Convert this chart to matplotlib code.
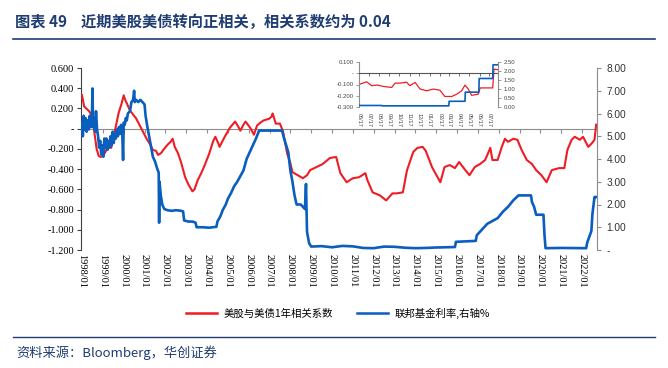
import matplotlib
matplotlib.use('Agg')
import matplotlib.pyplot as plt
import matplotlib.dates as mdates
import pandas as pd
from matplotlib.lines import Line2D

plt.rcParams['font.family'] = ['Noto Sans CJK SC', 'DejaVu Sans']

# ---------------- data ----------------
corr_t = [1998.0, 1998.1, 1998.2, 1998.35, 1998.5, 1998.6, 1998.7, 1998.8, 1998.9, 1999.0,
          1999.1, 1999.25, 1999.4, 1999.5, 1999.6, 1999.75, 1999.9, 2000.0, 2000.08, 2000.15,
          2000.3, 2000.45, 2000.6, 2000.75, 2000.9, 2001.1, 2001.25, 2001.4, 2001.55, 2001.65,
          2001.8, 2001.9, 2002.1, 2002.25, 2002.35, 2002.45, 2002.6, 2002.75, 2002.95, 2003.1,
          2003.3, 2003.4, 2003.55, 2003.7, 2003.85, 2004.1, 2004.3, 2004.4, 2004.55, 2004.6,
          2004.75, 2004.85, 2005.1, 2005.35, 2005.5, 2005.6, 2005.75, 2005.85, 2006.1, 2006.25,
          2006.4, 2006.5, 2006.7, 2007.0, 2007.1, 2007.15, 2007.3, 2007.5, 2007.65, 2007.85,
          2008.0, 2008.1, 2008.35, 2008.6, 2008.8, 2008.95, 2009.25, 2009.55, 2009.9, 2010.2,
          2010.4, 2010.7, 2011.0, 2011.3, 2011.6, 2011.7, 2011.95, 2012.3, 2012.6, 2012.9,
          2013.1, 2013.4, 2013.6, 2013.9, 2014.1, 2014.35, 2014.5, 2014.8, 2015.2, 2015.4,
          2015.65, 2015.9, 2016.1, 2016.4, 2016.6, 2016.85, 2017.1, 2017.35, 2017.6, 2017.7,
          2017.95, 2018.15, 2018.3, 2018.45, 2018.7, 2018.9, 2019.1, 2019.35, 2019.6, 2019.8,
          2020.05, 2020.3, 2020.55, 2020.9, 2021.15, 2021.3, 2021.5, 2021.65, 2021.9, 2022.05,
          2022.3, 2022.45, 2022.6, 2022.68]
corr_v = [0.33, 0.22, 0.20, 0.17, 0.12, -0.05, -0.20, -0.27, -0.28, -0.26,
          -0.24, -0.17, -0.19, -0.08, 0.00, 0.15, 0.25, 0.33, 0.28, 0.25,
          0.18, 0.14, 0.10, 0.04, -0.02, -0.10, -0.15, -0.21, -0.22, -0.26,
          -0.24, -0.21, -0.16, -0.13, -0.10, -0.18, -0.24, -0.33, -0.48, -0.55,
          -0.62, -0.60, -0.51, -0.45, -0.38, -0.25, -0.12, -0.08, -0.15, -0.18,
          -0.12, -0.08, 0.01, 0.07, 0.02, -0.02, 0.04, 0.07, 0.00, -0.06,
          0.03, 0.05, 0.08, 0.10, 0.12, 0.15, 0.05, 0.05, -0.03, -0.25,
          -0.34, -0.43, -0.46, -0.49, -0.46, -0.41, -0.38, -0.35, -0.29, -0.28,
          -0.44, -0.53, -0.49, -0.48, -0.44, -0.51, -0.63, -0.66, -0.71, -0.64,
          -0.64, -0.63, -0.41, -0.23, -0.19, -0.18, -0.22, -0.38, -0.53, -0.38,
          -0.36, -0.39, -0.33, -0.41, -0.46, -0.38, -0.35, -0.31, -0.19, -0.31,
          -0.31, -0.18, -0.10, -0.13, -0.10, -0.11, -0.21, -0.31, -0.35, -0.41,
          -0.46, -0.53, -0.41, -0.39, -0.39, -0.21, -0.11, -0.08, -0.11, -0.08,
          -0.18, -0.15, -0.11, 0.04]

ffr_t = [1998.0, 1998.04, 1998.08, 1998.12, 1998.17, 1998.22, 1998.27, 1998.32, 1998.37, 1998.42,
         1998.47, 1998.5, 1998.53, 1998.58, 1998.63, 1998.67, 1998.72, 1998.77, 1998.82, 1998.87,
         1998.92, 1998.97, 1999.02, 1999.07, 1999.12, 1999.17, 1999.22, 1999.27, 1999.32, 1999.37,
         1999.42, 1999.47, 1999.52, 1999.57, 1999.62, 1999.67, 1999.72, 1999.77, 1999.82, 1999.87,
         1999.93, 1999.97, 2000.0, 2000.05, 2000.1, 2000.15, 2000.2, 2000.3, 2000.37, 2000.45,
         2000.5, 2000.53, 2000.6, 2000.7, 2000.8, 2000.9, 2001.0, 2001.05, 2001.12, 2001.2,
         2001.3, 2001.4, 2001.5, 2001.6, 2001.68, 2001.7, 2001.72, 2001.78, 2001.85, 2001.95,
         2002.1, 2002.3, 2002.5, 2002.7, 2002.85, 2002.9, 2003.1, 2003.3, 2003.45, 2003.5,
         2003.8, 2004.1, 2004.45, 2004.5, 2004.65, 2004.75, 2004.9, 2005.0, 2005.15, 2005.3,
         2005.45, 2005.6, 2005.75, 2005.9, 2006.05, 2006.2, 2006.35, 2006.5, 2007.0, 2007.6,
         2007.7, 2007.8, 2007.9, 2008.0, 2008.1, 2008.2, 2008.3, 2008.5, 2008.7, 2008.75,
         2008.8, 2008.9, 2009.0, 2009.5, 2010.0, 2010.5, 2011.0, 2011.5, 2012.0, 2012.5,
         2013.0, 2013.5, 2014.0, 2014.5, 2015.0, 2015.9, 2015.95, 2016.9, 2016.95, 2017.2,
         2017.45, 2017.95, 2018.2, 2018.45, 2018.7, 2018.95, 2019.55, 2019.6, 2019.7, 2019.8,
         2020.15, 2020.2, 2020.25, 2021.0, 2022.2, 2022.25, 2022.45, 2022.5, 2022.6, 2022.68]
ffr_v = [5.6, 5.0, 5.9, 5.3, 5.8, 5.2, 5.7, 5.3, 5.9, 5.4,
         5.6, 7.1, 5.4, 5.8, 5.2, 6.1, 5.3, 5.0, 4.5, 4.8,
         4.2, 4.6, 4.1, 4.9, 4.5, 4.9, 4.4, 4.8, 4.5, 5.0,
         4.6, 5.2, 4.7, 5.1, 4.9, 5.3, 5.0, 5.4, 5.1, 5.5,
         5.2, 3.96, 5.6, 5.5, 5.8, 5.7, 6.0, 6.1, 6.5, 6.6,
         7.0, 6.5, 6.6, 6.5, 6.6, 6.5, 6.4, 5.9, 5.5, 5.1,
         4.6, 4.1, 3.9, 3.6, 3.4, 1.2, 3.0, 2.4, 2.0, 1.8,
         1.75, 1.72, 1.75, 1.73, 1.70, 1.30, 1.25, 1.25, 1.20, 1.0,
         1.0, 0.98, 1.02, 1.25, 1.5, 1.75, 2.0, 2.25, 2.5, 2.8,
         3.0, 3.25, 3.5, 4.0, 4.3, 4.6, 4.9, 5.25, 5.25, 5.25,
         4.9, 4.6, 4.3, 3.5, 3.0, 2.4, 2.0, 2.0, 1.8, 2.9,
         0.8, 0.3, 0.15, 0.17, 0.12, 0.18, 0.16, 0.09, 0.08, 0.15,
         0.14, 0.10, 0.08, 0.09, 0.11, 0.13, 0.36, 0.40, 0.65, 0.90,
         1.15, 1.40, 1.68, 1.90, 2.18, 2.40, 2.40, 2.10, 1.90, 1.55,
         1.55, 0.65, 0.08, 0.09, 0.08, 0.33, 0.83, 1.58, 2.33, 2.33]

year_ticks = list(range(1998, 2023))
year_labels = [f"{y}/01" for y in year_ticks]
left_ticks = [0.6, 0.4, 0.2, 0.0, -0.2, -0.4, -0.6, -0.8, -1.0, -1.2]
left_labels = ['0.600', '0.400', '0.200', '-', '-0.200', '-0.400', '-0.600', '-0.800', '-1.000', '-1.200']
right_ticks = [0, 1, 2, 3, 4, 5, 6, 7, 8]
right_labels = ['-', '1.00', '2.00', '3.00', '4.00', '5.00', '6.00', '7.00', '8.00']

# inset (recent period)
in_corr_d = ['2021-06-17', '2021-06-20', '2021-07-10', '2021-07-25', '2021-08-12', '2021-08-30', '2021-09-24',
             '2021-10-04', '2021-10-19', '2021-11-08', '2021-11-18', '2021-12-04', '2021-12-19',
             '2022-01-08', '2022-01-28', '2022-02-17', '2022-03-04', '2022-03-25', '2022-04-09',
             '2022-04-24', '2022-05-04', '2022-05-14', '2022-05-24', '2022-06-13', '2022-06-19',
             '2022-07-27', '2022-07-31', '2022-08-12']
in_corr_v = [-0.090, -0.097, -0.076, -0.110, -0.105, -0.117, -0.126,
             -0.088, -0.088, -0.080, -0.110, -0.082, -0.140,
             -0.155, -0.140, -0.150, -0.205, -0.205, -0.185,
             -0.155, -0.105, -0.140, -0.195, -0.185, -0.130,
             -0.130, 0.035, 0.030]
in_ffr_d = ['2021-06-17', '2021-08-25', '2021-08-26', '2022-03-16', '2022-03-17', '2022-05-04',
            '2022-05-05', '2022-06-15', '2022-06-16', '2022-07-27', '2022-07-28', '2022-08-12']
in_ffr_v = [0.10, 0.10, 0.08, 0.08, 0.33, 0.33, 0.83, 0.83, 1.58, 1.58, 2.33, 2.33]
in_tick_d = ['2021-06-17', '2021-07-17', '2021-08-17', '2021-09-17', '2021-10-17', '2021-11-17',
             '2021-12-17', '2022-01-17', '2022-02-17', '2022-03-17', '2022-04-17', '2022-05-17',
             '2022-06-17', '2022-07-17']
in_left_ticks = [0.1, 0.0, -0.1, -0.2, -0.3]
in_left_labels = ['0.100', '-', '-0.100', '-0.200', '-0.300']
in_right_ticks = [0, 0.5, 1.0, 1.5, 2.0, 2.5]
in_right_labels = ['0.00', '0.50', '1.00', '1.50', '2.00', '2.50']

RED = '#EE1C25'
BLUE = '#0A5EBE'
NAVY = '#1F3D73'
GRAY = '#8C8C8C'
W, H = 668, 368

fig = plt.figure(figsize=(W / 100, H / 100), dpi=100)

def fx(px):
    return px / W

def fy(py):
    return 1 - py / H

# ---------------- main axes ----------------
ax = fig.add_axes([fx(81), fy(250), fx(597 - 81), (250 - 68) / H])
ax.plot(corr_t, corr_v, color=RED, lw=1.5, zorder=3)
ax.set_xlim(1997.95, 2022.72)
ax.set_ylim(-1.2, 0.6)
ax.set_yticks(left_ticks)
ax.set_yticklabels(left_labels, family='Liberation Serif', fontsize=7.5)
ax.spines['top'].set_visible(False)
ax.spines['right'].set_visible(False)
ax.spines['left'].set_color('#404040')
ax.spines['bottom'].set_position(('data', 0))
ax.spines['bottom'].set_color(GRAY)
ax.tick_params(axis='y', direction='out', length=3, width=0.8, color='#404040', pad=2)
ax.set_xticks(year_ticks)
ax.set_xticklabels(year_labels, family='Liberation Serif', fontsize=7.5, rotation=-90)
ax.tick_params(axis='x', direction='out', length=3, width=0.8, color=GRAY, pad=87)

ax2 = ax.twinx()
ax2.plot(ffr_t, ffr_v, color=BLUE, lw=1.9, zorder=3)
ax2.set_ylim(0, 8)
ax2.set_yticks(right_ticks)
ax2.set_yticklabels(right_labels, family='Liberation Sans', fontsize=7.3, color='#333333')
for s in ['top', 'left', 'bottom']:
    ax2.spines[s].set_visible(False)
ax2.spines['right'].set_color(GRAY)
ax2.tick_params(axis='y', direction='out', length=3, width=0.8, color=GRAY, pad=4)

# ---------------- inset ----------------
icd = mdates.date2num(pd.to_datetime(in_corr_d).to_pydatetime())
ifd = mdates.date2num(pd.to_datetime(in_ffr_d).to_pydatetime())
itd_dt = pd.to_datetime(in_tick_d)
itd = mdates.date2num(itd_dt.to_pydatetime())
x0 = mdates.date2num(pd.Timestamp('2021-06-17').to_pydatetime())
x1 = mdates.date2num(pd.Timestamp('2022-08-12').to_pydatetime())

axi = fig.add_axes([fx(359), fy(107.3), fx(498 - 359), (107.3 - 61.7) / H])
axi.set_zorder(5)
axi.set_facecolor('white')
axi.plot(icd, in_corr_v, color=RED, lw=0.9)
axi.set_ylim(-0.3, 0.1)
axi.set_xlim(x0, x1)
axi.set_yticks(in_left_ticks)
axi.set_yticklabels(in_left_labels, family='Liberation Sans', fontsize=4.3, color='#444444')
axi.spines['top'].set_visible(False)
axi.spines['right'].set_visible(False)
axi.spines['left'].set_color(GRAY)
axi.spines['bottom'].set_position(('data', 0))
axi.spines['bottom'].set_color('#555555')
axi.tick_params(axis='y', direction='out', length=2, width=0.6, color=GRAY, pad=2)

axi2 = axi.twinx()
axi2.plot(ifd, in_ffr_v, color=BLUE, lw=1.2)
axi2.set_ylim(0, 2.5)
axi2.set_xlim(x0, x1)
axi2.set_yticks(in_right_ticks)
axi2.set_yticklabels(in_right_labels, family='Liberation Sans', fontsize=4.3, color='#444444')
for s in ['top', 'left', 'bottom']:
    axi2.spines[s].set_visible(False)
axi2.spines['right'].set_color(GRAY)
axi2.tick_params(axis='y', direction='out', length=2, width=0.6, color=GRAY, pad=2)

axi.set_xticks(itd)
axi.set_xticklabels([d.strftime('%m/%d') for d in itd_dt], family='Liberation Sans',
                    fontsize=4.0, rotation=-90, color='#444444')
axi.tick_params(axis='x', direction='out', length=2, width=0.6, color='#555555', pad=27)

# ---------------- legend ----------------
handles = [Line2D([0], [0], color=RED, lw=1.8), Line2D([0], [0], color=BLUE, lw=1.8)]
fig.legend(handles, ['美股与美债1年相关系数', '联邦基金利率,右轴%'],
           loc='center', bbox_to_anchor=(fx(338), fy(313)), ncol=2, frameon=False,
           fontsize=7.5, handlelength=3.0, handletextpad=0.6, columnspacing=2.3)

# ---------------- title / source ----------------
fig.text(fx(15), fy(22), '图表 49    近期美股美债转向正相关，相关系数约为 0.04',
         fontsize=11, fontweight='bold', color=NAVY, va='center', ha='left')
fig.add_artist(Line2D([fx(13), fx(655)], [fy(38.5), fy(38.5)], color=NAVY, lw=1.2))
fig.add_artist(Line2D([fx(13), fx(655)], [fy(337), fy(337)], color=NAVY, lw=1.0))
fig.text(fx(16), fy(353), '资料来源：Bloomberg，华创证券', fontsize=9.5, color=NAVY,
         style='italic', va='center', ha='left')

fig.savefig('out.png', dpi=100)
